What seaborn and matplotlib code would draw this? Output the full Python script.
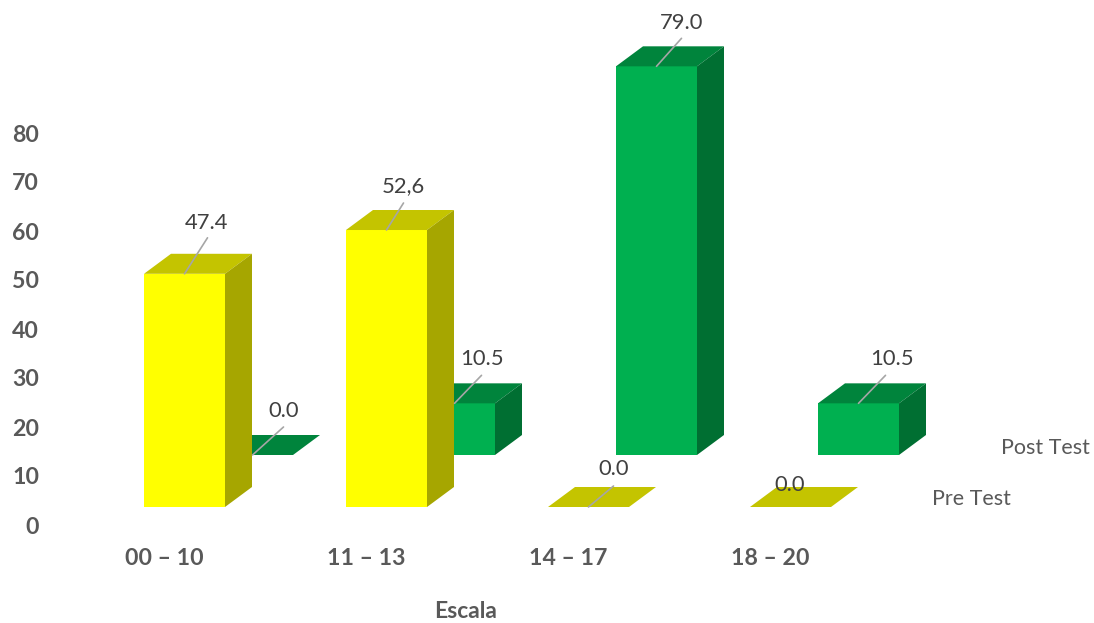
import matplotlib
matplotlib.use("Agg")
import matplotlib.pyplot as plt
from matplotlib.patches import Polygon
import seaborn as sns
import numpy as np

categories = ["00 – 10", "11 – 13", "14 – 17", "18 – 20"]
pre_test = [47.4, 56.3, 0.0, 0.0]
post_test = [0.0, 10.5, 79.0, 10.5]
pre_labels = ["47.4", "52,6", "0.0", "0.0"]
post_labels = ["0.0", "10.5", "79.0", "10.5"]
y_ticks = [0, 10, 20, 30, 40, 50, 60, 70, 80]

W, H = 1094, 623
PX_X = 202.0      # pixels per category
PX_Y = 4.92       # pixels per value unit
X0, Y0 = 184.5, 507.0  # pixel of first front bar centre / baseline
AX_L, AX_B = 60, 540

sns.set_theme(style="white")
plt.rcParams["font.family"] = ["Lato", "DejaVu Sans"]
fig = plt.figure(figsize=(W / 100, H / 100), dpi=100)
ax = fig.add_axes([AX_L / W, 1 - AX_B / H, 1 - AX_L / W, AX_B / H])

BAR_W = 81 / PX_X
DEPTH_X, DEPTH_Y = 27 / PX_X, 20 / PX_Y
SERIES_DX, SERIES_DY = 68 / PX_X, 52 / PX_Y
pos = np.arange(len(categories), dtype=float)

styles = {
    "pre": dict(front="#FFFF00", top="#C4C400", side="#A6A600"),
    "post": dict(front="#00B050", top="#00843C", side="#006F32"),
}

def draw_series(values, dx, dy, st):
    sns.barplot(x=pos + dx, y=values, native_scale=True, width=BAR_W, color=st["front"],
                saturation=1, bottom=dy, errorbar=None, ax=ax, linewidth=0, legend=False)
    for x, v in zip(pos + dx, values):
        l, r = x - BAR_W / 2, x + BAR_W / 2
        t, b = dy + v, dy
        ax.add_patch(Polygon([(l, t), (r, t), (r + DEPTH_X, t + DEPTH_Y), (l + DEPTH_X, t + DEPTH_Y)],
                             closed=True, fc=st["top"], ec="none"))
        if v > 0:
            ax.add_patch(Polygon([(r, b), (r + DEPTH_X, b + DEPTH_Y), (r + DEPTH_X, t + DEPTH_Y), (r, t)],
                                 closed=True, fc=st["side"], ec="none"))

draw_series(post_test, SERIES_DX, SERIES_DY, styles["post"])
draw_series(pre_test, 0, 0, styles["pre"])

ax.set_xlim(-(X0 - AX_L) / PX_X, (W - X0) / PX_X)
ax.set_ylim((Y0 - AX_B) / PX_Y, Y0 / PX_Y)

# axis labels sit on the floor of the 3D box, offset from the bars
TICK_SHIFT_X = 20.5 / PX_X
TICK_BASE = -18 / PX_Y
TICK_SCALE = 4.9 / PX_Y
ax.set_xticks(pos - TICK_SHIFT_X, categories)
ax.set_yticks([TICK_BASE + t * TICK_SCALE for t in y_ticks], [str(t) for t in y_ticks])
ax.tick_params(axis="both", length=0, labelcolor="#595959", labelsize=16.7)
ax.tick_params(axis="y", pad=15)
ax.tick_params(axis="x", pad=6)
for lab in ax.get_xticklabels() + ax.get_yticklabels():
    lab.set_fontweight("bold")
ax.set_xlabel("Escala", fontsize=16.5, fontweight="bold", color="#595959", va="center")
ax.xaxis.set_label_coords((466 - AX_L) / (W - AX_L), -(611 - AX_B) / AX_B)
ax.set_ylabel("")
sns.despine(ax=ax, left=True, bottom=True, top=True, right=True)
ax.patch.set_alpha(0)

def label(x, v, dy, txt, off, line=True):
    top = (x, dy + v)
    ox, oy = off
    ax.annotate(txt, xy=top, xytext=(ox * 0.72, oy * 0.72), textcoords="offset points",
                ha="center", va="center", fontsize=15.8, color="#404040", annotation_clip=False,
                zorder=6)
    if line:
        lx, ly = line
        ax.annotate("", xy=top, xytext=(lx * 0.72, ly * 0.72), textcoords="offset points",
                    arrowprops=dict(arrowstyle="-", color="#A6A6A6", lw=1.2, shrinkA=0, shrinkB=0),
                    zorder=5)

pre_off = [(22, 51), (17, 44), (25, 38), (-1, 22)]
post_off = [(31, 44), (27, 44), (25, 43), (33, 44)]
pre_line = [(23, 36), (17, 27), (25, 21), None]
post_line = [(31, 28), (27, 28), (25, 28), (27, 28)]
for i in range(4):
    label(pos[i], pre_test[i], 0, pre_labels[i], pre_off[i], pre_line[i] or False)
    label(pos[i] + SERIES_DX, post_test[i], SERIES_DY, post_labels[i], post_off[i], post_line[i])

# series names on the depth axis
ax.annotate("Pre Test", xy=(pos[-1], 0), xytext=((971 - 790.5) * 0.72, (507 - 499) * 0.72),
            textcoords="offset points", ha="center", va="center", fontsize=15.5, color="#595959")
ax.annotate("Post Test", xy=(pos[-1], 0), xytext=((1045 - 790.5) * 0.72, (507 - 448) * 0.72),
            textcoords="offset points", ha="center", va="center", fontsize=15.5, color="#595959")

fig.savefig("out.png", dpi=100, facecolor="white")
